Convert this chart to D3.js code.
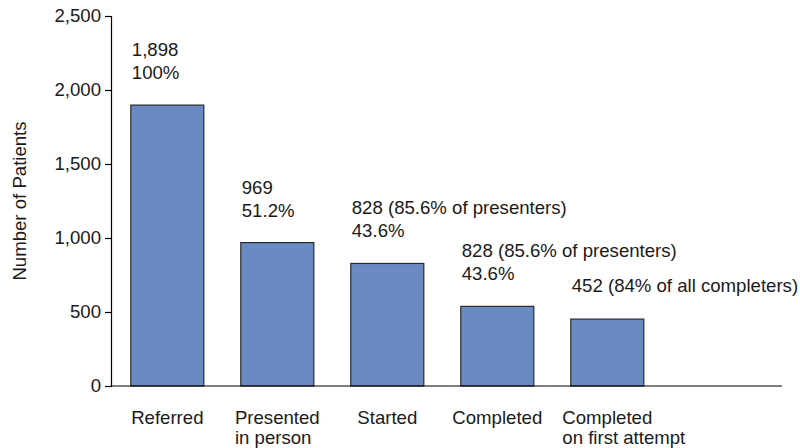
<!DOCTYPE html>
<html>
<head>
	<title>Patient Funnel</title>
	<style type="text/css">
		body{ margin:0; background:#fff; }
		text{ font-family: "Liberation Sans", Arial, sans-serif; fill:#1a1a1a; }
	</style>
</head>
<body>

	<svg width=800 height=448 class="funnel"></svg>
	<script type="text/javascript" src="https://cdn.jsdelivr.net/npm/d3@7/dist/d3.min.js"></script>
	<script type="text/javascript">

		// data
		categories = ['Referred', 'Presented', 'Started', 'Completed', 'Completed ']
		sub_labels = ['', 'in person', '', '', 'on first attempt']
		patients = [1898, 969, 828, 538, 452]
		count_labels = ['1,898', '969', '828 (85.6% of presenters)', '828 (85.6% of presenters)', '452 (84% of all completers)']
		pct_labels = ['100%', '51.2%', '43.6%', '43.6%', '']
		y_ticks = [0, 500, 1000, 1500, 2000, 2500]

		svg_ele = '.funnel'
		margin = {'top':16, 'left':111, 'bottom':62}
		axis_end = 782
		fs = 18.6
		height = d3.select(svg_ele).attr('height')

		y = d3.scaleLinear()
				.domain([0, 2500])
				.range([height - margin.bottom, margin.top])

		x = d3.scaleBand()
				.domain(categories)
				.range([margin.left, margin.left + 552.6])
				.paddingInner(0.336)
				.paddingOuter(0.18)

		svg = d3.select(svg_ele)

		// y axis
		y_axis = svg.append('g')
			.attr('transform', 'translate(' + margin.left + ',0)')
			.call(d3.axisLeft(y).tickValues(y_ticks).tickSize(6).tickPadding(4).tickFormat(d3.format(',')))
		y_axis.select('.domain').attr('stroke', '#000').attr('stroke-width', 1.2)
		y_axis.selectAll('.tick line').attr('stroke', '#000').attr('stroke-width', 1.2)
		y_axis.selectAll('.tick text')
			.attr('font-size', fs)
			.attr('font-family', '"Liberation Sans", Arial, sans-serif')
			.attr('fill', '#1a1a1a')

		svg.append('text')
			.attr('transform', 'translate(26,' + (y(1250)) + ') rotate(-90)')
			.attr('text-anchor', 'middle')
			.attr('font-size', fs)
			.text('Number of Patients')

		// bars
		svg.append('g')
			.selectAll('rect')
			.data(patients)
			.enter()
			.append('rect')
			.attr('x', function(d, i){ return x(categories[i]) })
			.attr('y', function(d){ return y(d) })
			.attr('width', x.bandwidth())
			.attr('height', function(d){ return y(0) - y(d) })
			.attr('fill', '#6a8bc1')
			.attr('stroke', '#2b2b2b')
			.attr('stroke-width', 1.2)

		// x axis line
		svg.append('line')
			.attr('x1', margin.left)
			.attr('x2', axis_end)
			.attr('y1', y(0))
			.attr('y2', y(0))
			.attr('stroke', '#000')
			.attr('stroke-width', 1.2)

		// value labels above bars
		labels = svg.append('g')
		patients.forEach(function(d, i){
			var lx = x(categories[i]) + 1
			if (pct_labels[i] == '') {
				labels.append('text').attr('x', lx).attr('y', y(d) - 27)
					.attr('font-size', fs).text(count_labels[i])
			} else {
				labels.append('text').attr('x', lx).attr('y', y(d) - 49)
					.attr('font-size', fs).text(count_labels[i])
				labels.append('text').attr('x', lx).attr('y', y(d) - 26)
					.attr('font-size', fs).text(pct_labels[i])
			}
		})

		// category labels: first line centred under bar, second line left-aligned with it
		cats = svg.append('g')
		categories.forEach(function(c, i){
			var cx = x(c) + x.bandwidth() / 2
			var t = cats.append('text')
				.attr('x', cx)
				.attr('y', y(0) + 38)
				.attr('text-anchor', 'middle')
				.attr('font-size', fs)
				.text(c.trim())
			if (sub_labels[i] != '') {
				var w = t.node().getComputedTextLength()
				cats.append('text')
					.attr('x', cx - w / 2)
					.attr('y', y(0) + 58)
					.attr('font-size', fs)
					.text(sub_labels[i])
			}
		})

	</script>
	
</body>
</html>
